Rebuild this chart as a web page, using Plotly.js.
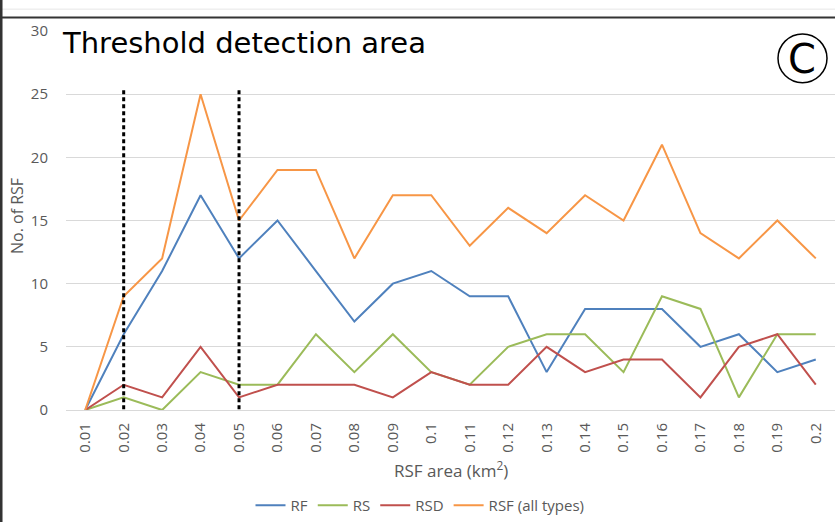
<!DOCTYPE html>
<html>
<head>
<meta charset="utf-8">
<script src="https://cdn.plot.ly/plotly-3.0.1.min.js"></script>
<style>
  html, body { margin: 0; padding: 0; background: #fff; }
  #chart { width: 835px; height: 522px; }
</style>
</head>
<body>
<div id="chart"></div>
<script>
const categories = ['0.01','0.02','0.03','0.04','0.05','0.06','0.07','0.08','0.09','0.1',
                    '0.11','0.12','0.13','0.14','0.15','0.16','0.17','0.18','0.19','0.2'];
const rf  = [0, 6, 11, 17, 12, 15, 11, 7, 10, 11, 9, 9, 3, 8, 8, 8, 5, 6, 3, 4];
const rs  = [0, 1, 0, 3, 2, 2, 6, 3, 6, 3, 2, 5, 6, 6, 3, 9, 8, 1, 6, 6];
const rsd = [0, 2, 1, 5, 1, 2, 2, 2, 1, 3, 2, 2, 5, 3, 4, 4, 1, 5, 6, 2];
const allTypes = [0, 9, 12, 25, 15, 19, 19, 12, 17, 17, 13, 16, 14, 17, 15, 21, 14, 12, 15, 12];
const thresholds = ['0.02', '0.05'];
const yTicks = [0, 5, 10, 15, 20, 25, 30];

const mk = (name, y, color) => ({
  type: 'scatter', mode: 'lines', name: name, x: categories, y: y,
  line: { color: color, width: 2 }, hoverinfo: 'x+y+name'
});

const traces = [
  mk('RF', rf, '#4F81BD'),
  mk('RS', rs, '#9BBB59'),
  mk('RSD', rsd, '#C0504D'),
  mk('RSF (all types)', allTypes, '#F79646')
];

const shapes = thresholds.map(c => {
  const i = categories.indexOf(c);
  return {
    type: 'line', xref: 'x', yref: 'y', x0: i, x1: i, y0: -0.5, y1: 25.5,
    line: { color: '#000', width: 3, dash: '4px,3px' }, layer: 'above'
  };
});
// page frame lines
shapes.push({ type: 'line', xref: 'paper', yref: 'paper', x0: -0.09, x1: 1.01, y0: 1.0577, y1: 1.0577,
  line: { color: '#e6e6e6', width: 1 } });
shapes.push({ type: 'line', xref: 'paper', yref: 'paper', x0: -0.09, x1: 1.01, y0: 1.0354, y1: 1.0354,
  line: { color: '#333333', width: 2 } });
shapes.push({ type: 'line', xref: 'paper', yref: 'paper', x0: -0.0845, x1: -0.0845, y0: -0.3, y1: 1.1,
  line: { color: '#333333', width: 3 } });
// circled C
shapes.push({ type: 'circle', xref: 'paper', yref: 'paper',
  x0: (778 - 66) / 769, x1: (827 - 66) / 769, y0: (412 - 83) / 381, y1: (412 - 34) / 381,
  line: { color: '#000', width: 1.5 } });

const layout = {
  width: 835, height: 522,
  margin: { l: 66, r: 0, t: 31, b: 110 },
  paper_bgcolor: '#fff', plot_bgcolor: '#fff',
  showlegend: true,
  legend: { orientation: 'h', x: (420 - 66) / 769, xanchor: 'center', y: -0.252, yanchor: 'middle',
            font: { family: 'Open Sans, sans-serif', size: 15, color: '#595959' },
            itemwidth: 30, tracegroupgap: 0 },
  xaxis: {
    type: 'category', range: [-0.5, 19.5], tickangle: -90,
    showgrid: false, zeroline: false, showline: true, linecolor: '#d9d9d9', linewidth: 1,
    ticks: '', ticklabelstandoff: 6,
    tickfont: { family: 'Open Sans, sans-serif', size: 15, color: '#595959' }
  },
  yaxis: {
    range: [0, 30], tickvals: yTicks, ticktext: yTicks.map(String),
    showgrid: true, gridcolor: '#d9d9d9', gridwidth: 1, zeroline: false, showline: false,
    ticks: '', ticklabelstandoff: 17,
    tickfont: { family: 'Open Sans, sans-serif', size: 15, color: '#595959' }
  },
  shapes: shapes,
  annotations: [
    { text: 'Threshold detection area', xref: 'paper', yref: 'paper', x: (60 - 66) / 769, y: (412 - 43) / 381,
      xanchor: 'left', yanchor: 'middle', showarrow: false,
      font: { family: 'DejaVu Sans, sans-serif', size: 29, color: '#000' } },
    { text: 'C', xref: 'paper', yref: 'paper', x: (802 - 66) / 769, y: (412 - 59) / 381,
      xanchor: 'center', yanchor: 'middle', showarrow: false,
      font: { family: 'DejaVu Sans, sans-serif', size: 40, color: '#000' } },
    { text: 'RSF area (km<sup>2</sup>)', xref: 'paper', yref: 'paper', x: (451 - 66) / 769, y: (412 - 472) / 381,
      xanchor: 'center', yanchor: 'middle', showarrow: false,
      font: { family: 'Liberation Sans Narrow, Open Sans, sans-serif', size: 17, color: '#595959' } },
    { text: 'No. of RSF', xref: 'paper', yref: 'paper', x: (17 - 66) / 769, y: (412 - 217) / 381,
      xanchor: 'center', yanchor: 'middle', showarrow: false, textangle: -90,
      font: { family: 'Open Sans, sans-serif', size: 16, color: '#595959' } }
  ]
};

Plotly.newPlot('chart', traces, layout, { displayModeBar: false, staticPlot: true });
</script>
</body>
</html>
